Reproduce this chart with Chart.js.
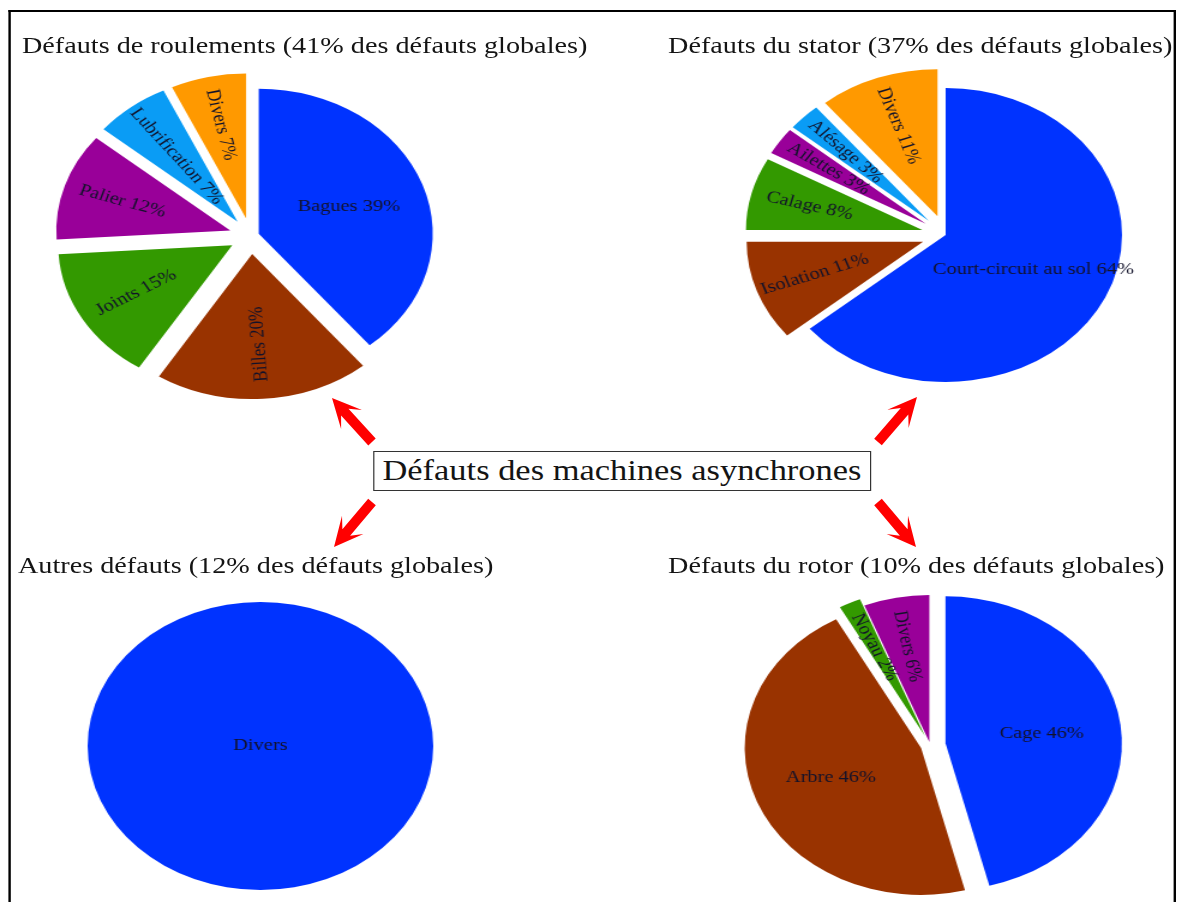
<!DOCTYPE html>
<html lang="fr">
<head>
<meta charset="utf-8">
<title>Défauts des machines asynchrones</title>
<script src="https://cdn.jsdelivr.net/npm/chart.js@4.4.1/dist/chart.umd.min.js"></script>
<style>
  html, body { margin: 0; padding: 0; background: #fff; width: 1180px; height: 902px; overflow: hidden; }
  /* The whole sheet is laid out in narrower units and widened 1.2x, which turns the pies into ellipses. */
  #sheet {
    position: absolute; left: 0; top: 0; width: 983.333px; height: 902px;
    transform: scaleX(1.2); transform-origin: 0 0;
    font-family: "Liberation Serif", "Times New Roman", serif; color: #141414;
  }
  #frame {
    position: absolute; left: 6.67px; top: 10px; width: 973.3px; height: 940px;
    border: 2px solid #000; border-left-width: 2.5px; border-right-width: 2.5px; border-bottom: none;
    box-sizing: border-box;
  }
  .pie { position: absolute; width: 360px; height: 360px; }
  .title { position: absolute; font-size: 23.5px; line-height: 23.5px; white-space: nowrap; }
  #hub {
    position: absolute; left: 310.8px; top: 451px; width: 415px; height: 40px;
    border: 1.5px solid #333; box-sizing: border-box; background: #fff;
    font-size: 28.7px; line-height: 36px; text-align: center; white-space: nowrap;
  }
  #arrows { position: absolute; left: 0; top: 0; }
</style>
</head>
<body>
<div id="sheet">
  <div id="frame"></div>
  <canvas id="pieRoulements" class="pie" width="360" height="360" style="left:29px;top:56px;width:360px;height:360px"></canvas>
  <canvas id="pieStator" class="pie" width="360" height="360" style="left:608px;top:54.5px;width:360px;height:360px"></canvas>
  <canvas id="pieAutres" class="pie" width="360" height="360" style="left:36.7px;top:566px;width:360px;height:360px"></canvas>
  <canvas id="pieRotor" class="pie" width="360" height="360" style="left:594.6px;top:565.4px;width:360px;height:360px"></canvas>
  <div class="title" id="t0" style="left:18.3px;top:34.3px"></div>
  <div class="title" id="t1" style="left:556.7px;top:34.3px"></div>
  <div class="title" id="t2" style="left:15px;top:554px"></div>
  <div class="title" id="t3" style="left:556.7px;top:554px"></div>
  <div id="hub"></div>
</div>
<svg id="arrows" width="1180" height="902" xmlns="http://www.w3.org/2000/svg"></svg>

<script>
// ---- data ----
const hubTitle = 'Défauts des machines asynchrones';
const groupNames = ['Défauts de roulements', 'Défauts du stator', 'Autres défauts', 'Défauts du rotor'];
const groupShares = [41, 37, 12, 10];

const roulementsLabels = ['Bagues', 'Billes', 'Joints', 'Palier', 'Lubrification', 'Divers'];
const roulementsValues = [39, 20, 15, 12, 7, 7];

const statorLabels = ['Court-circuit au sol', 'Isolation', 'Calage', 'Ailettes', 'Alésage', 'Divers'];
const statorValues = [64, 11, 8, 3, 3, 11];

const autresLabels = ['Divers'];
const autresValues = [100];

const rotorLabels = ['Cage', 'Arbre', 'Noyau', 'Divers'];
const rotorValues = [46, 46, 2, 6];

// ---- styling ----
const palette = ['#0033ff', '#993300', '#339900', '#990099', '#0a9cf5', '#ff9900'];
const labelFont = '17px "Liberation Serif", "Times New Roman", serif';

// Slices are pulled straight out along their middle angle by `offset` pixels,
// without the radius growth the stock arc applies to offset slices.
const ArcEl = Chart.ArcElement || Chart.registry.getElement('arc');
const baseArcDraw = ArcEl.prototype.draw;
ArcEl.prototype.draw = function (ctx) {
  const pull = this.options.offset || 0;
  if (!pull) return baseArcDraw.call(this, ctx);
  const mid = (this.startAngle + this.endAngle) / 2;
  const own = this.options;
  this.options = Object.assign({}, own, { offset: 0 });
  ctx.save();
  ctx.translate(Math.cos(mid) * pull, Math.sin(mid) * pull);
  baseArcDraw.call(this, ctx);
  ctx.restore();
  this.options = own;
};

// Writes each slice's name (and share) inside the slice: horizontal in wide slices,
// along the radius, read from the rim inwards, in narrow ones.
const sliceText = {
  id: 'sliceText',
  afterDatasetsDraw(chart, args, opts) {
    const ctx = chart.ctx;
    const ds = chart.data.datasets[0];
    const meta = chart.getDatasetMeta(0);
    ctx.save();
    ctx.font = labelFont;
    ctx.fillStyle = '#12122a';
    ctx.textAlign = 'center';
    ctx.textBaseline = 'middle';
    meta.data.forEach((arc, i) => {
      const p = arc.getProps(['x', 'y', 'startAngle', 'endAngle', 'outerRadius'], true);
      const sweep = p.endAngle - p.startAngle;
      const mid = (p.startAngle + p.endAngle) / 2;
      const pull = arc.options.offset || 0;
      const ox = p.x + Math.cos(mid) * pull;
      const oy = p.y + Math.sin(mid) * pull;
      const text = opts.showValue ? chart.data.labels[i] + ' ' + ds.data[i] + '%' : chart.data.labels[i];
      let r, rot;
      if (sweep >= 2 * Math.PI - 1e-6) {
        r = 0; rot = 0;
      } else if (sweep > Math.PI / 2) {
        r = 0.55 * p.outerRadius; rot = 0;
      } else {
        const half = sweep / 2;
        const centroid = 2 * p.outerRadius * Math.sin(half) / (3 * half);
        const len = ctx.measureText(text).width;
        r = Math.min(centroid, p.outerRadius - len / 2 - 4);
        rot = mid + Math.PI;
      }
      ctx.save();
      ctx.translate(ox + Math.cos(mid) * r, oy + Math.sin(mid) * r);
      ctx.rotate(rot);
      ctx.fillText(text, 0, 0);
      ctx.restore();
    });
    ctx.restore();
  }
};

function makePie(id, labels, values, look) {
  return new Chart(document.getElementById(id), {
    type: 'pie',
    data: {
      labels: labels,
      datasets: [{
        data: values,
        backgroundColor: palette.slice(0, values.length),
        borderWidth: 0,
        offset: look.pull
      }]
    },
    options: {
      responsive: false,
      animation: false,
      events: [],
      radius: look.radius,
      layout: { padding: 0 },
      plugins: {
        legend: { display: false },
        tooltip: { enabled: false },
        title: { display: false },
        sliceText: { showValue: look.showValue }
      }
    },
    plugins: [sliceText]
  });
}

makePie('pieRoulements', roulementsLabels, roulementsValues, { radius: 145, pull: [7, 18, 18, 18, 18, 18], showValue: true });
makePie('pieStator', statorLabels, statorValues, { radius: 147, pull: [0, 20, 20, 20, 20, 20], showValue: true });
makePie('pieAutres', autresLabels, autresValues, { radius: 144, pull: 0, showValue: false });
makePie('pieRotor', rotorLabels, rotorValues, { radius: 147, pull: [13, 8, 10, 3], showValue: true });

// Headings above each pie and the central box
groupNames.forEach((name, i) => {
  document.getElementById('t' + i).textContent = name + ' (' + groupShares[i] + '% des défauts globales)';
});
document.getElementById('hub').textContent = hubTitle;

// Red arrows from the central box towards each group
const svgNS = 'http://www.w3.org/2000/svg';
function arrow(tx, ty, px, py) {
  const dx = px - tx, dy = py - ty, len = Math.hypot(dx, dy);
  const ux = dx / len, uy = dy / len, nx = -uy, ny = ux;
  const shaft = 5, head = 14, headLen = 24, back = 5;
  const hx = px - ux * headLen, hy = py - uy * headLen;
  const pts = [
    [tx + nx * shaft, ty + ny * shaft],
    [hx + nx * shaft + ux * back, hy + ny * shaft + uy * back],
    [hx + nx * head - ux * back, hy + ny * head - uy * back],
    [px, py],
    [hx - nx * head - ux * back, hy - ny * head - uy * back],
    [hx - nx * shaft + ux * back, hy - ny * shaft + uy * back],
    [tx - nx * shaft, ty - ny * shaft]
  ];
  const poly = document.createElementNS(svgNS, 'polygon');
  poly.setAttribute('points', pts.map(q => q[0].toFixed(1) + ',' + q[1].toFixed(1)).join(' '));
  poly.setAttribute('fill', '#ff0000');
  document.getElementById('arrows').appendChild(poly);
}
arrow(372, 442, 332, 398);
arrow(878, 442, 917, 397);
arrow(372, 502, 334, 547);
arrow(878, 502, 916, 547);
</script>
</body>
</html>
